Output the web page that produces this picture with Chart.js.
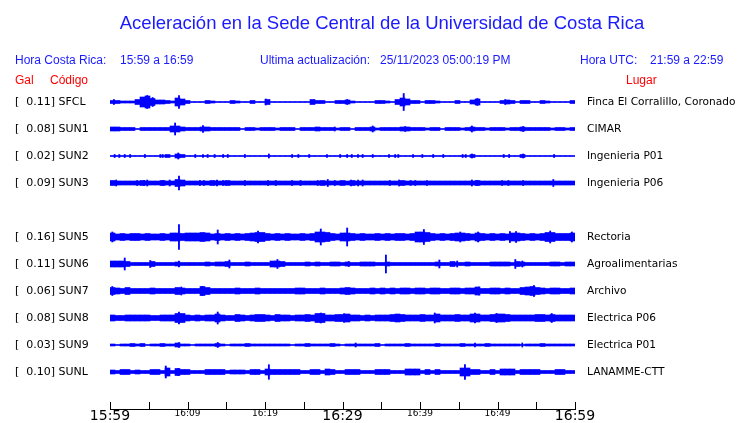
<!DOCTYPE html>
<html>
<head>
<meta charset="utf-8">
<title>Aceleración Sede Central UCR</title>
<script src="https://cdn.jsdelivr.net/npm/chart.js@4/dist/chart.umd.min.js"></script>
<style>
  html, body { margin: 0; padding: 0; background: #fff; }
</style>
</head>
<body>
<canvas id="sismo" width="740" height="423"></canvas>
<script>
// Estaciones (SUN4 no aparece, queda su fila vacia)
const stations = ['SFCL', 'SUN1', 'SUN2', 'SUN3', 'SUN5', 'SUN6', 'SUN7', 'SUN8', 'SUN9', 'SUNL'];
const rows = [0, 1, 2, 3, 5, 6, 7, 8, 9, 10];
const gal = [0.11, 0.08, 0.02, 0.09, 0.16, 0.11, 0.06, 0.08, 0.03, 0.10];
const places = ['Finca El Corralillo, Coronado', 'CIMAR', 'Ingenieria P01', 'Ingenieria P06', 'Rectoria',
  'Agroalimentarias', 'Archivo', 'Electrica P06', 'Electrica P01', 'LANAMME-CTT'];
const timeLabels = ['15:59', '16:09', '16:19', '16:29', '16:39', '16:49', '16:59'];

// Envolvente de cada traza (media amplitud), 93 intervalos en la hora
const envSFCL = [1.5,1.5,1,1,1,2.5,5,6,3.5,2,2,1.5,1,4,3,1.5,.5,.5,.5,1.5,1,.5,.5,.5,1.5,1,.5,.5,1.5,.5,.5,
  2.5,.5,.5,.5,.5,.5,.5,.5,.5,2.5,1.5,1.5,.5,.5,1.5,1.5,2,1,.5,.5,.5,.5,1.5,1.5,1,.5,2.5,4,3,1.5,1.5,
  .5,1.5,1.5,1,.5,.5,.5,1.5,.5,.5,2,3,.5,.5,.5,.5,1.5,2,1.5,.5,1.5,1.5,.5,.5,1.5,1,.5,.5,.5,.5,1.5];
const envSUN1 = [2,2,1.5,1.5,1.5,.5,1.5,1.5,1.5,1.5,1.5,1.5,3,3,2,1.5,1.5,1.5,2,2,1.5,1.5,1.5,1.5,1.5,1.5,.5,1.5,1.5,1,1.5,
  1.5,1.5,1,1.5,1.5,1.5,.5,1.5,1.5,1.5,2,1.5,1.5,1.5,1,1.5,1.5,.5,1.5,1.5,1.5,2,1,1.5,1.5,1.5,1.5,2,2,1.5,1.5,
  1.5,1,1.5,1.5,.5,1.5,1.5,1.5,1,1.5,2,1.5,1.5,1,1.5,1.5,1.5,1,1.5,1.5,2,1.5,1.5,1.5,1.5,1.5,1,1.5,1.5,1,1.5];
const envSUN2 = [.5,.5,.5,.5,.5,.5,.5,.5,.5,.5,.5,1.5,.5,2,1.5,.5,.5,.5,.5,.5,.5,.5,.5,.5,.5,.5,.5,.5,.5,.5,.5,
  .5,.5,.5,.5,.5,.5,.5,.5,.5,.5,.5,.5,.5,.5,.5,.5,.5,.5,.5,.5,.5,.5,.5,.5,.5,.5,.5,.5,.5,.5,.5,
  .5,.5,.5,.5,.5,.5,.5,.5,.5,.5,1.5,.5,.5,.5,.5,.5,.5,.5,.5,.5,1.5,.5,.5,.5,.5,.5,.5,.5,.5,.5,.5];
const envSUN3 = [2.5,2,2,2,2,2,2.5,2,2,2,2.5,2,2,3.5,3,2,2,2,2,2,2.5,2,2,2.5,2,2,2,2,2,2,2,
  2,2,2,2,2,2,2,2,2,2,2,2.5,2,2,2,2.5,2,2.5,2,2,2,2,2,2,2,2,2,2.5,2,2,2,
  2,2,2,2,2,2,2,2,2,2,2,2.5,2,2,2,2,2,2,2,2,2,2,2,2,2,2,2,2,2,2,2];
const envSUN5 = [4,3,3.5,3,3.5,3.5,3,3.5,3,3,3.5,3,4,4,3.5,4,4,4,4.5,4,3,3.5,3,3.5,3,3.5,3,3.5,4,4.5,4.5,
  3.5,3,3.5,3,3.5,3,3,3.5,3,3.5,5,5,4.5,3.5,3,4,4,3.5,3,3.5,3,3,3.5,3,3.5,3,3.5,3.5,3,3.5,5,
  5,4.5,3.5,3,3.5,3,3.5,4,4,3.5,3,4,3.5,3,3.5,3,3.5,3,4,4,3.5,3,3.5,3,3.5,4.5,4.5,3.5,3.5,3.5,4];
const envSUN6 = [3,3,3,2.5,1.5,1.5,1.5,1.5,2.5,1.5,1.5,1.5,1.5,2,1.5,1.5,1.5,1.5,1.5,2,1.5,2,2,2.5,1.5,1.5,1.5,2,1.5,1.5,1.5,
  1.5,3,3,2.5,1.5,1.5,1.5,1.5,2,1.5,2,1.5,1.5,2,2,1.5,2,1.5,1.5,2,2,2,1.5,1.5,2,1.5,1.5,1.5,1.5,1.5,1.5,
  1.5,1.5,1.5,2,1.5,1.5,2.5,1.5,1.5,2,1.5,1.5,1.5,1.5,2,2,2,2,1.5,2.5,2,1.5,1.5,1.5,1.5,1.5,2,2,1.5,2,2];
const envSUN7 = [3.5,3,2.5,3.5,2.5,2.5,2.5,2.5,3,2.5,2.5,2.5,2.5,3.5,3,2.5,2.5,2.5,4.5,3.5,2.5,2.5,2.5,2.5,2.5,3,2.5,2.5,2.5,3,2.5,
  2.5,2.5,2.5,2.5,2.5,2.5,3,3,2.5,2.5,2.5,3,2.5,2.5,2.5,3,3.5,3,2.5,2.5,2.5,3,2.5,3,2.5,3,2.5,3,3,2.5,3,
  3,2.5,3,3,2.5,2.5,3,3,2.5,3,3,4,2.5,2.5,3,3,2.5,3,2.5,2.5,3.5,4,4.5,3.5,3,2.5,3,3,2.5,2.5,3];
const envSUN8 = [3,2.5,2.5,3,3,3,3,3,2.5,2.5,3,3,3,4.5,4.5,3,2.5,3,2.5,3,3,4,3,2.5,2.5,3.5,3,2.5,3,3.5,3.5,
  3,2.5,3.5,3,3,2.5,3,3,3.5,3,4.5,4.5,3,3,3.5,3.5,4,3,3,2.5,3,2.5,3,3,3,3.5,4,3.5,3,3,3,
  3.5,3,3,4,3,3,3,3.5,3,3,4,4,3,3,3.5,4,4,3.5,3,3,3,3,3,3.5,3.5,3,3.5,3,3,3,3];
const envSUN9 = [1,.5,1,1,1.5,1,1.5,.5,1,1,1.5,1,1,2,1,1,.5,1,1,1,1,1.5,1,.5,1,1,1,1.5,1,1,1,
  1,1,1,1,1,.5,1,1,1.5,1,1,1,1,1.5,1,.5,1,1,1,1,1,1,1.5,.5,1,1,1,1,1.5,1,1,
  1,1,1,1.5,1,1,1,1,1.5,1,1,1,1,1.5,1,1,1,1,1,1,.5,1,1,1,1.5,1,1,1,1,1,1];
const envSUNL = [2,1.5,2.5,2.5,1.5,2,1.5,1.5,2.5,2.5,1.5,4,1.5,3.5,2.5,2.5,1.5,1.5,1.5,2.5,2.5,2.5,2.5,1.5,2,2,2,1.5,2.5,2.5,1.5,
  3,2.5,2.5,2.5,2.5,2.5,2.5,1.5,1.5,2.5,2.5,1.5,3,2.5,1.5,1.5,2.5,2.5,2.5,1.5,1.5,1.5,2.5,2.5,2.5,1.5,1.5,1.5,3,3,3,
  1.5,2.5,1.5,2.5,1.5,1.5,1.5,1.5,4,4,2.5,2.5,1.5,1.5,2.5,1.5,3,3,3,1.5,2.5,2.5,2.5,2.5,1.5,1.5,1.5,2.5,2.5,1.5,1.5];

// Picos angostos: [minuto, media amplitud]
const spkSFCL = [[0.5,2.5],[4.8,6.5],[5.5,4.5],[8.9,6.5],[20.1,3],[30.6,2.5],[37.9,8.5],[47.4,3.5],[51.0,2.5]];
const spkSUN1 = [[8.4,6],[12.0,3.5],[29.0,2],[33.9,3],[38.1,2.5],[46.7,3],[53.3,2.5]];
const spkSUN2 = [[0.6,1.5],[1.2,1.5],[1.9,1.5],[2.6,1.5],[4.5,1.5],[6.5,1.5],[6.8,1.5],[8.8,3],[11.0,1.5],[12.0,1.5],
  [12.6,1.5],[13.5,1.5],[14.6,1.5],[15.2,1.5],[17.4,1.5],[20.5,2],[23.5,1.5],[24.3,1.5],[25.7,1.5],[28.0,1.5],
  [29.7,1.5],[30.6,1.5],[31.2,1.5],[32.0,1.5],[32.6,1.5],[33.9,1.5],[36.0,1.5],[36.8,1.5],[37.2,1.5],[39.1,1.5],
  [40.3,1.5],[41.7,1.5],[43.0,1.5],[45.5,1.5],[45.9,1.5],[46.7,2],[50.8,1.5],[51.5,1.5],[53.3,2],[57.3,1.5]];
const spkSUN3 = [[0.8,3],[3.5,2.5],[4.4,2.5],[4.8,3],[6.8,2.5],[7.7,3],[8.9,7],[11.6,2.5],[12.1,2.5],[13.8,3],
  [14.6,2.5],[17.4,2.5],[20.4,2.5],[21.4,2.5],[23.5,2.5],[24.6,2.5],[26.8,2.5],[28.1,3.5],[29.0,2.5],[31.1,3],
  [32.0,3],[32.6,3],[36.1,2.5],[37.3,3],[38.8,2.5],[39.4,2.5],[40.9,2.5],[46.7,3],[47.4,2.5],[50.6,2.5],
  [51.4,2.5],[53.3,2.5],[57.2,3.5]];
const spkSUN5 = [[0.3,5],[8.9,12.5],[13.9,7],[19.1,6],[27.2,8],[30.6,9],[40.5,7.5],[45.2,5],[47.5,5],[51.6,5.5],
  [52.4,5.5],[56.8,6],[59.6,5]];
const spkSUN6 = [[1.9,6],[5.2,3.5],[8.9,3],[15.4,4],[21.6,4.5],[30.8,2.5],[35.6,9],[42.5,4],[44.8,3],[52.3,4.5],[53.2,3]];
const spkSUN7 = [[0.3,4.5],[9.2,4],[11.9,4.5],[47.6,4],[54.7,5.5]];
const spkSUN8 = [[8.9,6],[13.9,6],[27.2,5],[30.2,4.5],[41.9,5],[47.1,5],[49.9,4.5],[57.0,4.5]];
const spkSUN9 = [[8.9,2.5],[13.9,2.5],[31.7,2],[47.1,2],[53.2,2]];
const spkSUNL = [[7.2,6],[8.8,3.5],[20.5,7.3],[45.8,7.5]];

const envelopes = [envSFCL, envSUN1, envSUN2, envSUN3, envSUN5, envSUN6, envSUN7, envSUN8, envSUN9, envSUNL];
const spikes = [spkSFCL, spkSUN1, spkSUN2, spkSUN3, spkSUN5, spkSUN6, spkSUN7, spkSUN8, spkSUN9, spkSUNL];

const ROW_H = 27;
const BLUE = '#0000ff';

const datasets = [];
stations.forEach((name, i) => {
  const c = rows[i] * ROW_H;
  const env = envelopes[i];
  datasets.push({
    label: name,
    data: env.map((a, k) => ({ x: (k + 0.5) * 60 / env.length, y: [c - a, c + a] })),
    backgroundColor: BLUE,
    barThickness: 5
  });
  datasets.push({
    label: name + ' picos',
    data: spikes[i].map(([t, a]) => ({ x: t, y: [c - a, c + a] })),
    backgroundColor: BLUE,
    barThickness: 1.2
  });
});

const rowTicks = (scale) => { scale.ticks = rows.map(r => ({ value: r * ROW_H })); };

const header = {
  id: 'header',
  afterDraw(chart) {
    const ctx = chart.ctx;
    ctx.save();
    ctx.textBaseline = 'alphabetic';
    ctx.fillStyle = '#1a1aff';
    ctx.font = '18.5px "Liberation Sans"';
    ctx.textAlign = 'center';
    ctx.fillText('Aceleración en la Sede Central de la Universidad de Costa Rica', 382, 29);
    ctx.textAlign = 'left';
    ctx.font = '12px "Liberation Sans"';
    ctx.fillText('Hora Costa Rica:', 15, 64);
    ctx.fillText('15:59 a 16:59', 120, 64);
    ctx.fillText('Ultima actualización:', 260, 64);
    ctx.fillText('25/11/2023 05:00:19 PM', 380, 64);
    ctx.fillText('Hora UTC:', 580, 64);
    ctx.fillText('21:59 a 22:59', 650, 64);
    ctx.fillStyle = '#ff0000';
    ctx.fillText('Gal', 15, 84);
    ctx.fillText('Código', 50, 84);
    ctx.fillText('Lugar', 626, 84);

    // marcas del eje de tiempo hacia arriba
    const x = chart.scales.x;
    const bottom = chart.chartArea.bottom;
    ctx.strokeStyle = '#000';
    ctx.lineWidth = 1;
    ctx.beginPath();
    x.ticks.forEach(t => {
      const px = Math.round(x.getPixelForValue(t.value)) + 0.5;
      ctx.moveTo(px, bottom - 7);
      ctx.lineTo(px, bottom);
    });
    ctx.stroke();
    ctx.restore();
  }
};

new Chart(document.getElementById('sismo'), {
  type: 'bar',
  data: { datasets },
  options: {
    responsive: false,
    animation: false,
    layout: { padding: { top: 88, left: 15, right: 0, bottom: 0 } },
    datasets: { bar: { grouped: false, borderWidth: 0 } },
    plugins: { legend: { display: false }, tooltip: { enabled: false } },
    scales: {
      x: {
        type: 'linear',
        min: 0,
        max: 60,
        offset: false,
        grid: { display: false, drawTicks: false },
        border: { display: true, color: '#000', width: 1 },
        ticks: {
          stepSize: 5,
          autoSkip: false,
          maxRotation: 0,
          padding: 0,
          color: '#000',
          font: (ctx) => ({
            family: 'DejaVu Sans',
            size: ctx.tick && ctx.tick.value % 30 === 0 ? 14 : 9,
            lineHeight: 1
          }),
          callback: (v) => (v % 10 === 0 ? timeLabels[v / 10] : '')
        },
        afterFit: (s) => { s.height = 14; }
      },
      y: {
        position: 'left',
        min: -14,
        max: 307,
        reverse: true,
        grid: { display: false, drawTicks: false },
        border: { display: false },
        afterBuildTicks: rowTicks,
        ticks: {
          autoSkip: false,
          crossAlign: 'far',
          padding: 0,
          color: '#000',
          font: { family: 'DejaVu Sans', size: 11 },
          callback: (v, i) => '[  ' + gal[i].toFixed(2) + '] ' + stations[i]
        },
        afterFit: (s) => { s.width = 95; }
      },
      y2: {
        position: 'right',
        min: -14,
        max: 307,
        reverse: true,
        grid: { display: false, drawTicks: true, tickLength: 12 },
        border: { display: false },
        afterBuildTicks: rowTicks,
        ticks: {
          autoSkip: false,
          padding: 0,
          color: '#000',
          font: { family: 'DejaVu Sans', size: 10.6 },
          callback: (v, i) => places[i]
        },
        afterFit: (s) => { s.width = 165; }
      }
    }
  },
  plugins: [header]
});
</script>
</body>
</html>
